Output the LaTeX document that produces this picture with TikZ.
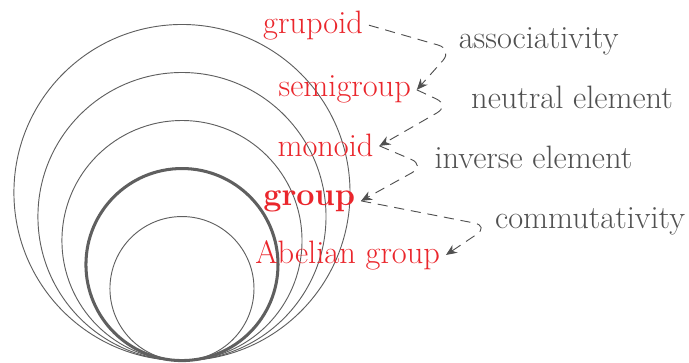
\documentclass[tikz,border=0pt]{standalone}
\usetikzlibrary{arrows.meta}
\definecolor{setred}{RGB}{234,38,44}
\definecolor{propgray}{RGB}{80,80,80}
\definecolor{ringgray}{RGB}{95,95,95}

\begin{document}
\begin{tikzpicture}
\tikzstyle{ring}=[draw=ringgray,line width=0.55pt]
\tikzstyle{setname}=[text=setred,font=\fontsize{19.2}{23}\selectfont,anchor=base]
\tikzstyle{property}=[text=propgray,font=\fontsize{19.2}{23}\selectfont,anchor=base]
\tikzstyle{implies}=[draw=propgray,dash pattern=on 6pt off 4pt,line width=0.55pt,rounded corners=9pt,-{Stealth[length=6.5pt,width=5.5pt]}]

\useasboundingbox (-3.79,-0.03) rectangle (10.56,7.51);

% nested sets
\foreach \r in {3.5,3,2.5,1.5}
{
  \draw[ring] (0,\r) circle (\r);
}
\draw[ring,line width=1.8pt] (0,2) circle (2);

% names of the structures
\node[setname] (grupoid) at (2.73,6.82) {grupoid};
\node[setname] (semigroup) at (3.39,5.49) {semigroup};
\node[setname] (monoid) at (2.99,4.24) {monoid};
\node[setname,font=\fontsize{19.2}{23}\selectfont\bfseries] (group) at (2.65,3.24) {group};
\node[setname] (abelian) at (3.45,2.03) {Abelian group};

% axioms
\node[property] (assoc) at (7.43,6.51) {associativity};
\node[property] (neutral) at (8.125,5.26) {neutral element};
\node[property] (inverse) at (7.32,4.01) {inverse element};
\node[property] (commut) at (8.5,2.76) {commutativity};

\draw[implies] (grupoid.east) -- ([yshift=-5pt]assoc.west) -- (semigroup.east);
\draw[implies] (semigroup.east) -- ([xshift=-9pt,yshift=-5pt]neutral.west) -- (monoid.east);
\draw[implies] (monoid.east) -- ([xshift=-2pt,yshift=-5pt]inverse.west) -- (group.east);
\draw[implies] (group.east) -- ([yshift=-3pt]commut.west) -- (abelian.east);

\end{tikzpicture}
\end{document}
